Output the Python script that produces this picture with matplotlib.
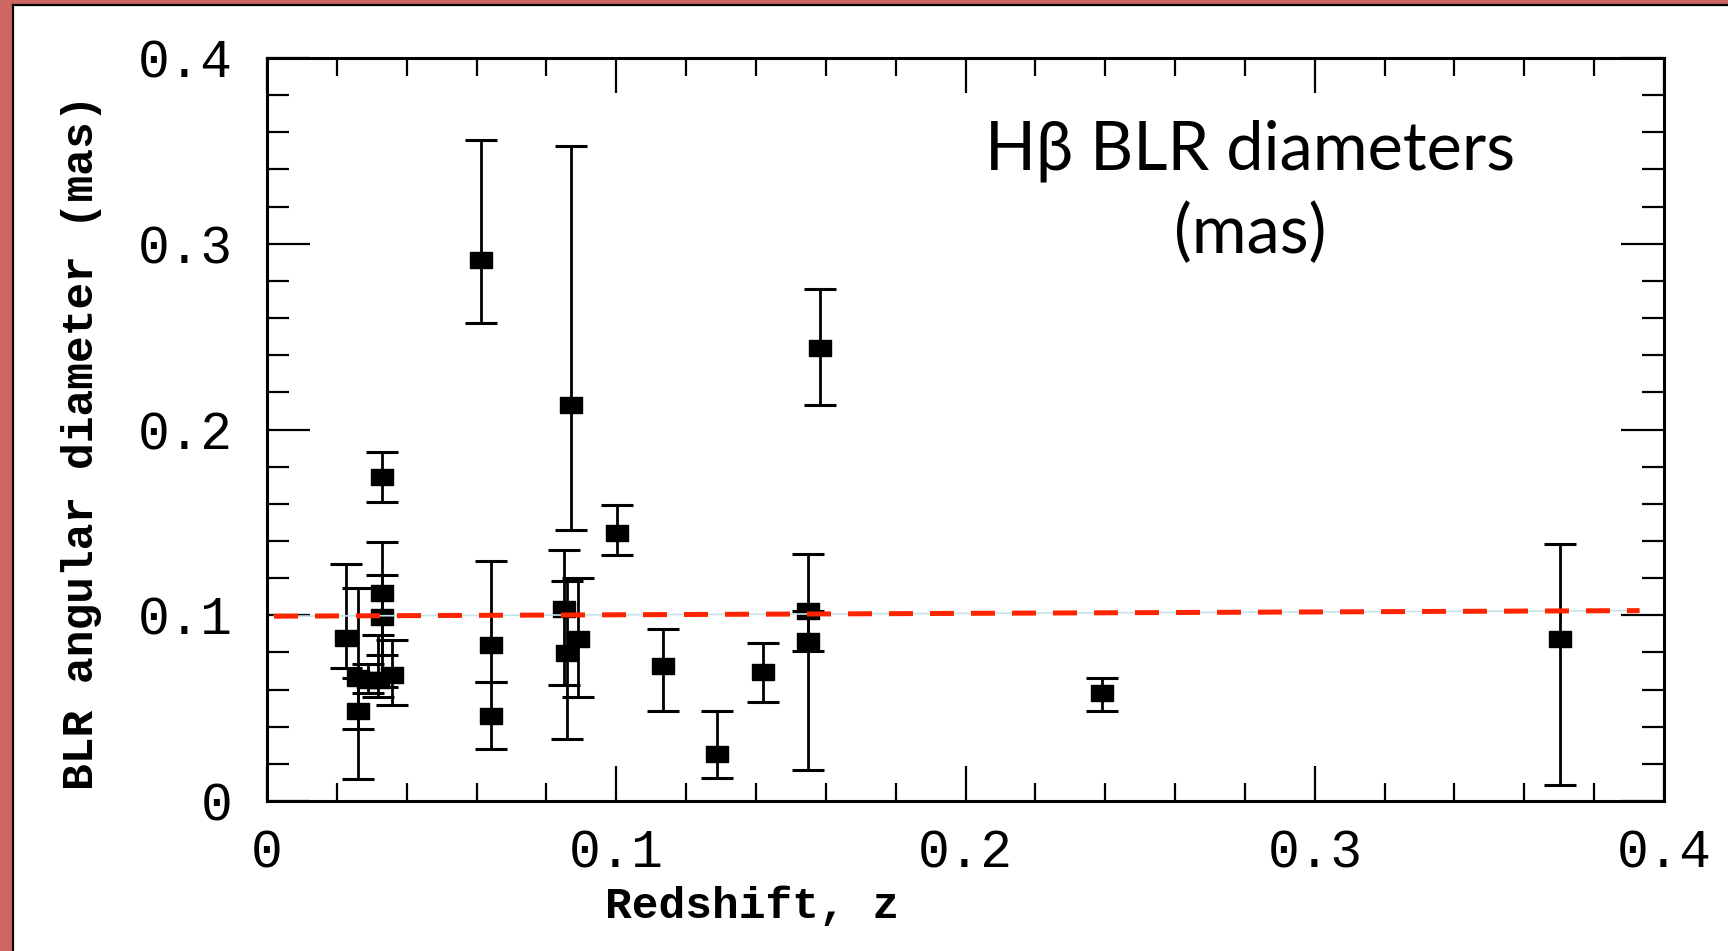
import matplotlib
matplotlib.use("Agg")
import matplotlib.pyplot as plt
from matplotlib.patches import Rectangle
from matplotlib.lines import Line2D
import numpy as np

# redshift, BLR angular diameter (mas), lower and upper error bounds
z = [0.0225, 0.026, 0.026, 0.029, 0.0318, 0.033, 0.033, 0.033, 0.0357,
     0.0613, 0.0641, 0.0641, 0.0851, 0.0858, 0.087, 0.0891, 0.1003,
     0.1135, 0.1288, 0.1421, 0.155, 0.155, 0.1583, 0.2391, 0.3702]
diam = [0.0879, 0.0485, 0.066, 0.065, 0.065, 0.1746, 0.112, 0.099, 0.0678,
        0.2912, 0.0838, 0.0455, 0.1031, 0.0796, 0.2131, 0.087, 0.1444,
        0.0729, 0.0252, 0.0697, 0.1023, 0.0863, 0.244, 0.0579, 0.0871]
lo = [0.0714, 0.0118, 0.039, 0.058, 0.0562, 0.161, 0.0786, 0.0615, 0.0517,
      0.2571, 0.064, 0.0282, 0.0623, 0.0334, 0.1458, 0.0561, 0.1322,
      0.0487, 0.0124, 0.0531, 0.0808, 0.0165, 0.2131, 0.0482, 0.0088]
hi = [0.1274, 0.066, 0.1145, 0.074, 0.0894, 0.188, 0.1396, 0.1217, 0.0867,
      0.3557, 0.1293, 0.064, 0.1352, 0.1186, 0.3527, 0.1199, 0.1594,
      0.0927, 0.0487, 0.085, 0.1332, 0.1023, 0.2756, 0.0664, 0.1381]

# dashed trend line end points
fit_z = [0.002, 0.393]
fit_d = [0.0995, 0.1025]

x_ticks = [0, 0.1, 0.2, 0.3, 0.4]
x_labels = ["0", "0.1", "0.2", "0.3", "0.4"]
y_ticks = [0, 0.1, 0.2, 0.3, 0.4]
y_labels = ["0", "0.1", "0.2", "0.3", "0.4"]

fig = plt.figure(figsize=(17.28, 9.51), dpi=100)
fig.patch.set_facecolor("white")

# red frame on top and left edges, with thin black inner line
frame_red = "#cd6560"
fig.add_artist(Rectangle((0, 1 - 4 / 951), 1, 4 / 951, transform=fig.transFigure,
                         facecolor=frame_red, edgecolor="none"))
fig.add_artist(Rectangle((0, 0), 12 / 1728, 1, transform=fig.transFigure,
                         facecolor=frame_red, edgecolor="none"))
fig.add_artist(Line2D([12.5 / 1728, 1], [1 - 5 / 951, 1 - 5 / 951], transform=fig.transFigure,
                      color="black", lw=1.6))
fig.add_artist(Line2D([12.5 / 1728, 12.5 / 1728], [0, 1 - 5 / 951], transform=fig.transFigure,
                      color="black", lw=1.6))

ax = fig.add_axes([267 / 1728, 150 / 951, 1397 / 1728, 743 / 951])
ax.set_xlim(0, 0.4)
ax.set_ylim(0, 0.4)

yerr = [np.array(diam) - np.array(lo), np.array(hi) - np.array(diam)]
rect = [(-1, -0.74), (1, -0.74), (1, 0.74), (-1, 0.74), (-1, -0.74)]
ax.errorbar(z, diam, yerr=yerr, fmt="none", ecolor="black", elinewidth=2.0,
            capsize=11.5, capthick=2.2, zorder=2)
ax.plot(z, diam, linestyle="none", marker=rect, markersize=16.5,
        color="black", zorder=3)

# thin pale line under the red dashes
ax.plot(fit_z, fit_d, color="#c6e4ea", lw=1.2, zorder=4)
ax.plot(fit_z, fit_d, color="#ff2400", lw=3.6, dashes=(4.8, 3.4), zorder=5)

ax.set_xticks(x_ticks)
ax.set_xticklabels(x_labels)
ax.set_yticks(y_ticks)
ax.set_yticklabels(y_labels)
ax.set_xticks(np.arange(0, 0.401, 0.02), minor=True)
ax.set_yticks(np.arange(0, 0.401, 0.02), minor=True)

ax.tick_params(axis="both", which="both", direction="in", top=True, right=True,
               width=1.6, color="black")
ax.tick_params(axis="x", which="major", length=25, pad=20)
ax.tick_params(axis="x", which="minor", length=13)
ax.tick_params(axis="y", which="major", length=31, pad=25)
ax.tick_params(axis="y", which="minor", length=16)
for lab in ax.get_xticklabels() + ax.get_yticklabels():
    lab.set_fontfamily("Liberation Mono")
    lab.set_fontsize(38)

for sp in ax.spines.values():
    sp.set_linewidth(2.2)

ax.set_xlabel("Redshift, z", fontfamily="Liberation Mono", fontweight="bold", fontsize=32)
ax.xaxis.set_label_coords((752 - 267) / 1397, (801 - 907) / 743)
ax.xaxis.label.set_va("center")
ax.set_ylabel("BLR angular diameter (mas)", fontfamily="Liberation Mono",
              fontweight="bold", fontsize=32)
ax.yaxis.set_label_coords((82 - 267) / 1397, (801 - 442) / 743)
ax.yaxis.label.set_va("center")

fig.text(1250 / 1728, 1 - 192 / 951, "H\u03b2 BLR diameters\n(mas)", fontfamily="Lato",
         fontsize=48, ha="center", va="center", multialignment="center", linespacing=1.4)

fig.savefig("out.png", dpi=100)
